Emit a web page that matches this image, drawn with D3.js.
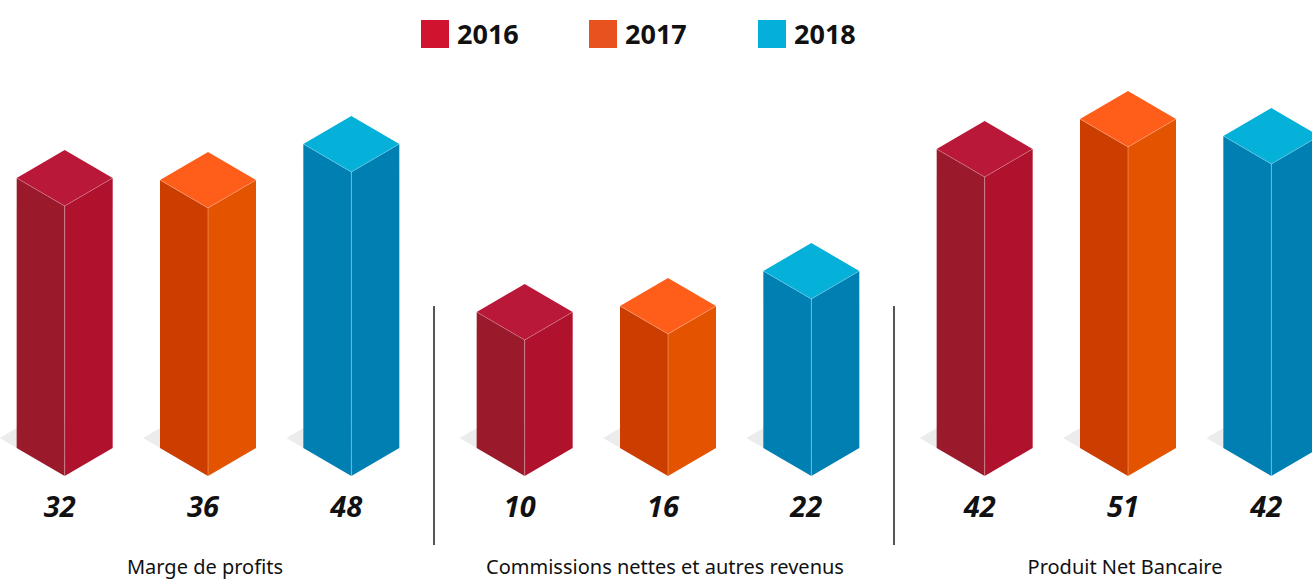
<!DOCTYPE html>
<html>
<head>
<meta charset="utf-8">
<script src="https://cdn.jsdelivr.net/npm/d3@7"></script>
<style>
  html, body { margin: 0; padding: 0; background: #fff; }
  svg { display: block; }
</style>
</head>
<body>
<svg id="chart" width="1312" height="579"></svg>
<script>
// ---- data ----
const categories = ["Marge de profits", "Commissions nettes et autres revenus", "Produit Net Bancaire"];
const years = ["2016", "2017", "2018"];
// labelled values per category (2016, 2017, 2018)
const values2016 = [32, 10, 42];
const values2017 = [36, 16, 51];
const values2018 = [48, 22, 42];
// apparent bar heights as drawn in the picture (not proportional to labels)
const levels2016 = [27.0, 13.6, 29.9];
const levels2017 = [26.8, 14.2, 32.9];
const levels2018 = [30.4, 17.7, 31.2];

const legendColors = ["#d01430", "#e8521e", "#04b0da"];
const topColors   = ["#ba1839", "#ff5e1a", "#05b0d9"];
const leftColors  = ["#9a1a2c", "#cc3d00", "#0080b2"];
const rightColors = ["#b0122d", "#e35300", "#0080b2"];

const valuesByYear = [values2016, values2017, values2018];
const levelsByYear = [levels2016, levels2017, levels2018];

const rows = [];
categories.forEach((c, ci) => {
  years.forEach((y, yi) => {
    rows.push({ cat: c, year: y, yi, value: valuesByYear[yi][ci], level: levelsByYear[yi][ci] });
  });
});

// ---- layout ----
const svg = d3.select("#chart");
const baseY = 476;      // front-bottom vertex
const hw = 48;          // half width of prism
const hh = 28;          // half height of diamond

const x0 = d3.scaleBand().domain(categories).range([-22, 1358]);
const x1 = d3.scaleBand().domain(years).range([15, 445]);
const h = d3.scaleLinear().domain([0, 35]).range([0, 350]);

const cx = d => x0(d.cat) + x1(d.year) + x1.bandwidth() / 2;
const pts = arr => arr.map(p => p.join(",")).join(" ");

// shadows
svg.append("g").selectAll("polygon").data(rows).join("polygon")
  .attr("points", d => {
    const c = cx(d) - 17, b = baseY - 10;
    return pts([[c - hw, b - hh], [c, b - 2 * hh], [c + hw, b - hh], [c, b]]);
  })
  .attr("fill", "#ececec");

// bars
const bars = svg.append("g").selectAll("g").data(rows).join("g");
bars.append("polygon")
  .attr("points", d => {
    const c = cx(d), t = h(d.level);
    return pts([[c - hw, baseY - hh - t], [c, baseY - t], [c, baseY], [c - hw, baseY - hh]]);
  })
  .attr("fill", d => leftColors[d.yi]);
bars.append("polygon")
  .attr("points", d => {
    const c = cx(d), t = h(d.level);
    return pts([[c, baseY - t], [c + hw, baseY - hh - t], [c + hw, baseY - hh], [c, baseY]]);
  })
  .attr("fill", d => rightColors[d.yi]);
bars.append("polygon")
  .attr("points", d => {
    const c = cx(d), t = h(d.level);
    return pts([[c - hw, baseY - hh - t], [c, baseY - 2 * hh - t], [c + hw, baseY - hh - t], [c, baseY - t]]);
  })
  .attr("fill", d => topColors[d.yi]);
bars.append("line")
  .attr("x1", d => cx(d)).attr("x2", d => cx(d))
  .attr("y1", d => baseY - h(d.level)).attr("y2", baseY)
  .attr("stroke", "rgba(255,255,255,0.3)").attr("stroke-width", 1);
bars.append("polyline")
  .attr("points", d => {
    const c = cx(d), t = h(d.level);
    return pts([[c - hw, baseY - hh - t], [c, baseY - t], [c + hw, baseY - hh - t]]);
  })
  .attr("fill", "none").attr("stroke", "rgba(255,255,255,0.22)").attr("stroke-width", 1);

// value labels
svg.append("g").selectAll("text").data(rows).join("text")
  .attr("x", d => cx(d) - 5)
  .attr("y", 517)
  .attr("text-anchor", "middle")
  .attr("font-family", "'Noto Sans', 'Open Sans', sans-serif")
  .attr("font-weight", "bold")
  .attr("font-style", "italic")
  .attr("font-size", 29)
  .attr("fill", "#111")
  .text(d => d.value);

// category labels
svg.append("g").selectAll("text").data(categories).join("text")
  .attr("x", c => x0(c) + x0.bandwidth() / 2 - 3)
  .attr("y", 574)
  .attr("text-anchor", "middle")
  .attr("font-family", "'Noto Sans', 'Open Sans', sans-serif")
  .attr("font-size", 20)
  .attr("fill", "#111")
  .text(c => c);

// dividers
svg.append("g").selectAll("line").data(categories.slice(1)).join("line")
  .attr("x1", c => x0(c) - 4).attr("x2", c => x0(c) - 4)
  .attr("y1", 306).attr("y2", 545)
  .attr("stroke", "#555").attr("stroke-width", 2);

// legend
const legendX = [421, 589, 758];
const lg = svg.append("g").selectAll("g").data(years).join("g")
  .attr("transform", (y, i) => `translate(${legendX[i]},20)`);
lg.append("rect").attr("width", 28).attr("height", 28).attr("fill", (y, i) => legendColors[i]);
lg.append("text")
  .attr("x", 36).attr("y", 24)
  .attr("font-family", "'Noto Sans', 'Open Sans', sans-serif")
  .attr("font-weight", "bold")
  .attr("font-size", 27)
  .attr("fill", "#111")
  .text(y => y);
</script>
</body>
</html>
